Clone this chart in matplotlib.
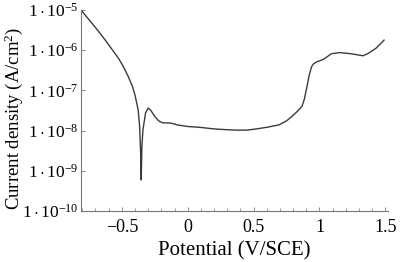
import numpy as np
import matplotlib
matplotlib.use("Agg")
import matplotlib.pyplot as plt
from matplotlib.ticker import FixedLocator, MultipleLocator, NullFormatter

# Potential (V/SCE) and log10 of current density (A/cm^2)
potential = [-0.81, -0.76, -0.727, -0.68, -0.626, -0.586, -0.526, -0.49, -0.451, -0.42,
             -0.40, -0.376, -0.365, -0.358, -0.353, -0.348, -0.34, -0.32, -0.30, -0.28,
             -0.25, -0.22, -0.19, -0.15, -0.12, -0.08, 0.0, 0.09, 0.20, 0.30,
             0.37, 0.45, 0.52, 0.60, 0.692, 0.75, 0.79, 0.83, 0.867, 0.885,
             0.905, 0.92, 0.94, 0.955, 0.98, 1.03, 1.09, 1.155, 1.24, 1.33,
             1.37, 1.43, 1.49]
log_current = [-5.00, -5.20, -5.33, -5.52, -5.75, -5.93, -6.20, -6.40, -6.66, -6.90,
               -7.12, -7.49, -7.90, -8.50, -9.23, -8.40, -7.99, -7.56, -7.44, -7.50,
               -7.65, -7.76, -7.81, -7.81, -7.82, -7.86, -7.90, -7.92, -7.96, -7.98,
               -7.99, -7.99, -7.96, -7.92, -7.86, -7.76, -7.65, -7.53, -7.40, -7.22,
               -6.91, -6.65, -6.41, -6.34, -6.29, -6.23, -6.09, -6.06, -6.09, -6.14,
               -6.08, -5.95, -5.75]

y_exps = [-10, -9, -8, -7, -6, -5]
x_ticks = [-0.5, 0, 0.5, 1, 1.5]
x_labels = ["\u22120.5", "0", "0.5", "1", "1.5"]

plt.rcParams['font.family'] = ['Liberation Serif', 'DejaVu Serif']
plt.rcParams['mathtext.fontset'] = 'custom'
plt.rcParams['mathtext.rm'] = 'Liberation Serif'
plt.rcParams['mathtext.it'] = 'Liberation Serif:italic'

current = 10.0 ** np.array(log_current)

fig = plt.figure(figsize=(4, 2.62), dpi=100)
ax = fig.add_axes([0.2025, 0.195, 0.7675, 0.767])
ax.plot(potential, current, color='#3a3a3a', linewidth=1.0)

ax.set_yscale('log')
ax.set_ylim(1e-10, 1e-5)
ax.set_xlim(-0.81, 1.52)

ax.yaxis.set_major_locator(FixedLocator([10.0 ** e for e in y_exps]))
ax.set_yticklabels([r'$1\cdot10^{%d}$' % e for e in y_exps])
ax.yaxis.set_minor_formatter(NullFormatter())
ax.set_xticks(x_ticks)
ax.set_xticklabels(x_labels)
ax.xaxis.set_minor_locator(MultipleLocator(0.1))

for s in ['top', 'right']:
    ax.spines[s].set_visible(False)
for s in ['left', 'bottom']:
    ax.spines[s].set_color('#777777')
    ax.spines[s].set_linewidth(0.8)

ax.tick_params(which='both', direction='in', colors='#777777', labelcolor='black')
ax.tick_params(which='major', length=3, width=0.6)
ax.tick_params(which='minor', length=2, width=0.5)
ax.tick_params(axis='x', pad=6, labelsize=13)
ax.tick_params(axis='y', pad=2, labelsize=12.5)

ax.set_xlabel("Potential (V/SCE)", fontsize=15)
ax.xaxis.set_label_coords(0.5, -0.15)
ax.set_ylabel("Current density (A/cm$^2$)", fontsize=13.5)
ax.yaxis.set_label_coords(-0.184, 0.46)

fig.savefig("out.png", dpi=100)
